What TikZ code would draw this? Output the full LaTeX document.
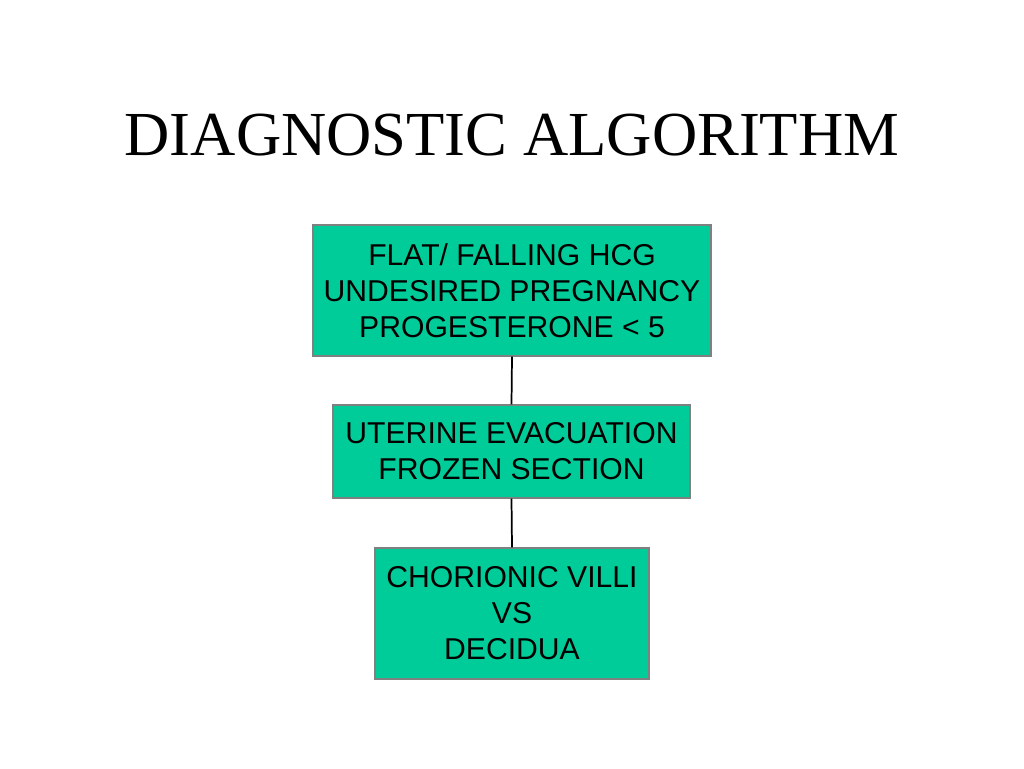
\documentclass[tikz,border=0pt]{standalone}
\usepackage{fontspec}
\setmainfont{Liberation Serif}
\newfontfamily\arialfont{Liberation Sans}
\definecolor{boxgreen}{HTML}{00CC99}
\definecolor{boxedge}{HTML}{808080}
\begin{document}
\begin{tikzpicture}[x=0.75pt,y=-0.75pt,
  flowbox/.style={draw=boxedge,line width=1pt,fill=boxgreen,inner sep=0pt,
    align=center,font=\arialfont\fontsize{22.6pt}{27pt}\selectfont},
  link/.style={draw=black,line width=1.3pt}]
\useasboundingbox[fill=white] (0,0) rectangle (1024,768);
\node[font=\fontsize{47pt}{56pt}\selectfont,anchor=base] (title) at (512,155) {DIAGNOSTIC ALGORITHM};
\node[flowbox,minimum width=398*0.75pt,minimum height=131*0.75pt] (b1) at (512,290.5)
  {FLAT/ FALLING HCG\\UNDESIRED PREGNANCY\\PROGESTERONE {\textless} 5};
\node[flowbox,minimum width=357*0.75pt,minimum height=93*0.75pt] (b2) at (511.5,451.5)
  {UTERINE EVACUATION\\FROZEN SECTION};
\node[flowbox,minimum width=274*0.75pt,minimum height=131*0.75pt] (b3) at (512,613.5)
  {CHORIONIC VILLI\\VS\\DECIDUA};
\draw[link] (b1.south) -- (b2.north);
\draw[link] (b2.south) -- (b3.north);
\end{tikzpicture}
\end{document}
